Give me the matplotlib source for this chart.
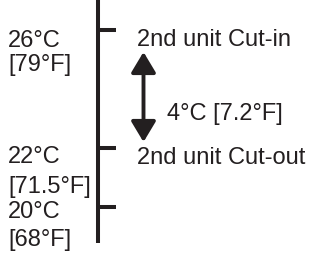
import matplotlib
matplotlib.use("Agg")
import matplotlib.pyplot as plt

# Data
tick_temps_c = [26, 22, 20]
left_labels = [("26°C", "[79°F]"), ("22°C", "[71.5°F]"), ("20°C", "[68°F]")]
right_labels = {26: "2nd unit Cut-in", 22: "2nd unit Cut-out"}
diff_label = "4°C [7.2°F]"
arrow_span = (26, 22)

INK = "#231f20"
PX = 0.72  # points per pixel at dpi 100
SCALE = 29.5  # pixels per degree C

fig = plt.figure(figsize=(3.10, 2.62), dpi=100)
ax = fig.add_axes([0, 0, 1, 1])
ax.set_xlim(0, 310)
ax.set_ylim(26 - (262 - 30) / SCALE, 26 + 30 / SCALE)
ax.axis("off")

font = dict(family=["Liberation Sans", "DejaVu Sans"], fontsize=17, color=INK)

# main vertical line
ax.plot([98, 98], [26 + 40 / SCALE, 20 - 36 / SCALE], color=INK, lw=2.9,
        solid_capstyle="butt")
# ticks
for t in tick_temps_c:
    ax.plot([98, 116], [t, t], color=INK, lw=2.9, solid_capstyle="butt")

# left labels: (baseline offsets in px below tick)
left_offsets = [(17, 41), (15, 45), (11, 39)]
for t, (c, f), (o1, o2) in zip(tick_temps_c, left_labels, left_offsets):
    ax.annotate(c, xy=(8, t), xytext=(0, -o1 * PX), textcoords="offset points",
                va="baseline", ha="left", **font)
    ax.annotate(f, xy=(8, t), xytext=(0, -o2 * PX), textcoords="offset points",
                va="baseline", ha="left", **font)

# right labels
for t, lab in right_labels.items():
    ax.annotate(lab, xy=(137, t), xytext=(0, -16 * PX), textcoords="offset points",
                va="baseline", ha="left", **font)

# double arrow
ax.annotate("", xy=(143.5, arrow_span[1]), xytext=(143.5, arrow_span[0]),
            arrowprops=dict(arrowstyle="<|-|>,head_length=1.25,head_width=0.75",
                            mutation_scale=10, color=INK, lw=2.8,
                            shrinkA=22 * PX, shrinkB=6 * PX))
mid = (arrow_span[0] + arrow_span[1]) / 2
ax.annotate(diff_label, xy=(167, mid), xytext=(0, -(120 - 89) * PX),
            textcoords="offset points", va="baseline", ha="left", **font)

fig.savefig("out.png", dpi=100)
